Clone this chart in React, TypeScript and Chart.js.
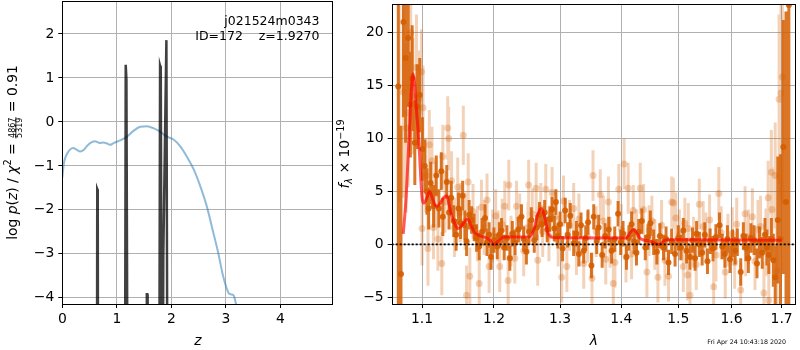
import React, { useEffect, useRef } from "react";
import { Chart, registerables } from "chart.js";
Chart.register(...registerables);

const FONT = '"DejaVu Sans", "Liberation Sans", sans-serif';
const TICK = 13.9;

// ---------- left panel: redshift ----------
const zTicks = [0, 1, 2, 3, 4];
const lnpTicks = [-4, -3, -2, -1, 0, 1, 2];
const chiZ = [0.0, 0.03, 0.08, 0.14, 0.2, 0.26, 0.33, 0.39, 0.45, 0.51, 0.6, 0.69, 0.75, 0.82, 0.88, 0.94, 1.06, 1.18, 1.3, 1.43, 1.55, 1.67, 1.78, 1.91, 2.04, 2.16, 2.28, 2.41, 2.53, 2.65, 2.77, 2.86, 2.95, 3.05, 3.09, 3.14, 3.18, 3.3];
const chiVal = [-1.27, -0.93, -0.74, -0.63, -0.59, -0.63, -0.67, -0.64, -0.55, -0.48, -0.44, -0.48, -0.47, -0.49, -0.52, -0.48, -0.42, -0.34, -0.21, -0.11, -0.1, -0.14, -0.21, -0.33, -0.4, -0.55, -0.78, -1.08, -1.46, -1.92, -2.52, -2.98, -3.51, -3.89, -3.92, -3.94, -4.11, -4.9];
const pzZ = [0.0, 0.632, 0.641, 0.65, 0.66, 1.145, 1.163, 1.176, 1.205, 1.543, 1.55, 1.558, 1.565, 1.772, 1.793, 1.806, 1.832, 1.853, 1.909, 1.935, 4.97];
const pzVal = [-10, -10, -1.53, -1.56, -10, -10, 1.3, 0.97, -10, -10, -3.92, -3.92, -10, -10, 1.28, 1.22, -10, -3.0, 1.86, -10, -10];

// ---------- right panel: spectrum ----------
const waveTicks = [1.1, 1.2, 1.3, 1.4, 1.5, 1.6, 1.7];
const fluxTicks = [-5, 0, 5, 10, 15, 20];

const darkWave = [1.0688, 1.0723, 1.0755, 1.0783, 1.0817, 1.0845, 1.0869, 1.0904, 1.0935, 1.097, 1.1005, 1.1036, 1.1065, 1.1088, 1.1115, 1.1155, 1.1191, 1.1226, 1.1259, 1.128, 1.1334, 1.1365, 1.1395, 1.143, 1.1463, 1.1495, 1.1525, 1.1554, 1.1585, 1.1609, 1.1645, 1.168, 1.1717, 1.175, 1.1788, 1.183, 1.1872, 1.19, 1.193, 1.1958, 1.2, 1.2048, 1.208, 1.211, 1.215, 1.219, 1.2233, 1.227, 1.231, 1.236, 1.2407, 1.244, 1.2481, 1.252, 1.2555, 1.26, 1.264, 1.268, 1.272, 1.276, 1.28, 1.284, 1.2875, 1.291, 1.2935, 1.2965, 1.3, 1.304, 1.3081, 1.312, 1.3162, 1.3216, 1.326, 1.33, 1.3334, 1.3378, 1.341, 1.3448, 1.3503, 1.3541, 1.359, 1.3622, 1.368, 1.373, 1.379, 1.3838, 1.389, 1.3946, 1.399, 1.403, 1.4088, 1.413, 1.4176, 1.422, 1.426, 1.43, 1.4353, 1.4413, 1.446, 1.4501, 1.456, 1.4617, 1.467, 1.4735, 1.478, 1.4824, 1.488, 1.4942, 1.5, 1.505, 1.5092, 1.515, 1.5215, 1.526, 1.5308, 1.5337, 1.539, 1.544, 1.549, 1.554, 1.559, 1.5645, 1.57, 1.5768, 1.582, 1.5871, 1.592, 1.597, 1.602, 1.607, 1.6112, 1.6178, 1.623, 1.628, 1.6329, 1.638, 1.6442, 1.65, 1.655, 1.6606, 1.666, 1.67, 1.6738, 1.679, 1.683, 1.6868, 1.6921, 1.6975, 1.7035, 1.709, 1.7149];
const darkFlux = [14.9, -2.8, 21.0, 17.6, 19.5, 13.2, 15.7, 9.6, 13.0, 14.1, 9.0, 7.4, 5.0, 3.4, 5.8, 3.6, 6.5, 3.4, 6.9, 2.6, 5.9, 3.0, 4.4, 2.2, 0.9, 3.4, 2.0, 4.6, 1.8, 0.3, 2.8, 2.3, 1.6, 0.6, -0.2, 1.2, 2.5, 0.2, 0.9, -1.2, 0.4, -0.2, 0.9, 1.3, -0.3, 0.6, -1.3, 1.0, 0.2, 1.4, 2.6, 0.5, -0.7, 1.2, 2.3, 0.4, 1.6, 2.8, 1.9, 3.0, 1.4, 2.4, 3.3, 1.5, 4.0, 0.8, 1.9, -0.4, 3.2, 0.9, 2.7, 0.1, 1.0, -0.9, 1.8, -0.6, 0.6, 2.1, -2.0, 2.6, 0.3, 1.6, -1.0, 0.8, 1.4, -0.6, 0.5, 2.9, 0.2, 1.0, -1.2, 0.6, 1.9, 0.3, -0.8, 1.2, 2.2, -0.3, 0.7, 2.0, 0.2, -0.7, 0.8, -0.3, 0.5, -1.7, 0.3, -0.9, 0.6, -0.3, 1.3, -0.6, -1.2, 0.4, -1.3, 1.0, 0.0, -0.8, 0.9, -1.6, 0.3, -0.4, 0.7, 1.8, -0.2, -0.9, 0.5, -1.4, 0.1, -0.6, 0.2, -2.6, 0.8, -0.3, -1.3, 0.6, 0.4, -1.8, 0.2, -0.8, 0.9, -0.3, -1.0, 0.5, -1.5, -3.1, 2.3, 0.5, 9.2, 4.0, 22.6];
const darkErr = [25, 14, 9, 8, 6.5, 5, 5, 4, 4, 3.5, 3, 2.5, 2.2, 2.0, 2.0, 2.0, 1.9, 1.8, 1.8, 1.8, 1.6, 1.6, 1.6, 1.5, 1.5, 1.5, 1.5, 1.4, 1.4, 1.4, 1.4, 1.3, 1.3, 1.3, 1.3, 1.3, 1.3, 1.3, 1.2, 1.2, 1.2, 1.2, 1.2, 1.2, 1.2, 1.2, 1.2, 1.2, 1.2, 1.2, 1.2, 1.2, 1.2, 1.2, 1.2, 1.2, 1.2, 1.2, 1.2, 1.2, 1.2, 1.2, 1.2, 1.2, 1.2, 1.2, 1.2, 1.2, 1.2, 1.2, 1.2, 1.2, 1.2, 1.2, 1.2, 1.2, 1.2, 1.2, 1.2, 1.2, 1.2, 1.2, 1.2, 1.2, 1.2, 1.2, 1.2, 1.2, 1.2, 1.2, 1.2, 1.2, 1.2, 1.2, 1.2, 1.2, 1.2, 1.2, 1.2, 1.2, 1.2, 1.2, 1.2, 1.2, 1.2, 1.2, 1.2, 1.2, 1.2, 1.2, 1.2, 1.2, 1.2, 1.2, 1.2, 1.2, 1.2, 1.2, 1.2, 1.2, 1.2, 1.2, 1.2, 1.2, 1.2, 1.3, 1.3, 1.3, 1.3, 1.3, 1.3, 1.3, 1.3, 1.3, 1.4, 1.4, 1.4, 1.4, 1.5, 1.5, 1.6, 1.7, 1.8, 2.0, 2.5, 3.0, 6.0, 8.0, 12, 18, 30];

const lightWave = [1.07, 1.0752, 1.079, 1.0817, 1.085, 1.088, 1.0926, 1.096, 1.0992, 1.1, 1.1013, 1.105, 1.1079, 1.1097, 1.1133, 1.1153, 1.118, 1.1213, 1.1266, 1.128, 1.131, 1.1347, 1.136, 1.14, 1.144, 1.1485, 1.152, 1.1563, 1.159, 1.1609, 1.1632, 1.1655, 1.17, 1.1763, 1.1788, 1.182, 1.1858, 1.19, 1.193, 1.198, 1.2025, 1.206, 1.2085, 1.212, 1.2159, 1.2208, 1.2218, 1.225, 1.2307, 1.2332, 1.238, 1.244, 1.2504, 1.2515, 1.257, 1.2629, 1.2653, 1.27, 1.273, 1.2777, 1.2826, 1.2875, 1.292, 1.297, 1.3026, 1.3054, 1.3107, 1.315, 1.3216, 1.326, 1.33, 1.3378, 1.344, 1.3513, 1.3529, 1.358, 1.3649, 1.37, 1.374, 1.3784, 1.381, 1.3865, 1.3893, 1.3958, 1.4, 1.4048, 1.408, 1.4118, 1.4176, 1.4206, 1.426, 1.4325, 1.4383, 1.4441, 1.448, 1.4529, 1.458, 1.4635, 1.47, 1.476, 1.4824, 1.4882, 1.4912, 1.4956, 1.502, 1.5092, 1.512, 1.5171, 1.5184, 1.5215, 1.528, 1.533, 1.5387, 1.546, 1.551, 1.558, 1.5657, 1.57, 1.5755, 1.58, 1.5878, 1.593, 1.6014, 1.606, 1.61, 1.6178, 1.6264, 1.6276, 1.633, 1.6408, 1.646, 1.652, 1.6572, 1.6639, 1.668, 1.6724, 1.6738, 1.6789, 1.6803, 1.6868, 1.69, 1.6947, 1.6987, 1.7014];
const lightFlux = [24.0, 14.4, 11.0, 12.4, 20.0, 14.0, 16.7, 13.8, 16.3, 1.5, 12.9, 6.5, -0.4, 9.4, 7.9, 1.6, 4.8, 0.5, -1.8, 8.3, 4.0, 11.0, 10.0, 6.0, 1.6, 5.4, 3.0, 10.3, 2.2, -4.8, 5.9, -3.0, 3.1, 1.0, -3.7, 3.5, 1.6, 4.2, -2.1, 0.8, 2.7, 0.8, -2.1, 1.9, 3.6, -3.4, 5.6, 0.3, -1.3, 3.6, 2.4, -0.6, 1.6, 5.6, 2.9, 5.3, -1.5, 3.4, 1.2, 5.2, 0.8, 4.9, 2.6, 0.3, -3.1, 4.1, -2.1, 1.8, 3.4, -0.5, 2.4, -1.8, 0.7, -3.2, 6.5, 1.2, 4.7, 2.2, -1.4, 4.0, 0.2, -3.7, -1.7, 5.2, 1.4, 7.6, -1.2, 5.3, -0.9, 3.2, 0.9, 5.3, 3.3, -2.6, 1.3, 2.2, 0.0, -3.1, 1.8, -1.5, -3.0, 4.0, 3.9, 2.5, 0.9, -2.1, 2.0, -2.9, 1.5, -4.8, 0.2, -1.9, 3.8, 1.7, 0.6, 2.3, -4.0, -1.0, 4.8, 1.1, -2.6, 0.4, 1.0, -1.7, 1.9, -4.3, 2.9, -0.4, 0.7, 2.6, -1.6, 1.4, 1.7, -4.6, 0.2, 4.4, -5.3, 6.8, 3.3, 6.5, -2.5, 13.7, 14.3, 15.8];
const lightErr = [20, 10, 8, 7, 6, 5.5, 5, 4.5, 4, 3.5, 4, 3.5, 3.5, 3.3, 3.2, 3.0, 3.0, 3.0, 3.0, 3.0, 2.9, 3.0, 3.0, 2.8, 2.8, 2.8, 2.8, 2.8, 2.7, 2.8, 2.7, 2.7, 2.6, 2.6, 2.6, 2.6, 2.6, 2.5, 2.5, 2.5, 2.5, 2.4, 2.4, 2.4, 2.4, 2.4, 2.4, 2.4, 2.4, 2.4, 2.4, 2.4, 2.4, 2.4, 2.4, 2.4, 2.4, 2.4, 2.4, 2.4, 2.4, 2.4, 2.4, 2.4, 2.4, 2.4, 2.4, 2.4, 2.4, 2.4, 2.4, 2.4, 2.4, 2.4, 2.4, 2.4, 2.4, 2.4, 2.4, 2.4, 2.4, 2.4, 2.4, 2.4, 2.4, 2.4, 2.4, 2.4, 2.4, 2.4, 2.4, 2.4, 2.4, 2.4, 2.4, 2.4, 2.4, 2.4, 2.4, 2.4, 2.4, 2.4, 2.4, 2.4, 2.4, 2.4, 2.4, 2.4, 2.4, 2.4, 2.4, 2.4, 2.4, 2.4, 2.4, 2.4, 2.5, 2.5, 2.5, 2.5, 2.5, 2.5, 2.5, 2.5, 2.5, 2.6, 2.6, 2.6, 2.6, 2.7, 2.7, 2.8, 2.9, 3.0, 3.2, 3.5, 3.5, 4.0, 4.0, 5.0, 5.0, 8.0, 10.0, 12.0];

const modelWave = [1.0752, 1.079, 1.083, 1.086, 1.088, 1.09, 1.0917, 1.096, 1.0985, 1.1005, 1.1025, 1.106, 1.1102, 1.1135, 1.1169, 1.12, 1.1236, 1.129, 1.1334, 1.1365, 1.1395, 1.144, 1.1485, 1.152, 1.1554, 1.16, 1.1624, 1.167, 1.1717, 1.1788, 1.1883, 1.194, 1.2001, 1.206, 1.2146, 1.2517, 1.26, 1.265, 1.2711, 1.276, 1.2823, 1.2926, 1.4084, 1.415, 1.4211, 1.427, 1.4339, 1.4502, 1.46, 1.4659, 1.478, 1.7];
const modelFlux = [1.0, 4.5, 10.4, 14.8, 16.1, 15.3, 13.5, 9.4, 6.0, 4.2, 3.9, 4.3, 5.0, 4.4, 3.8, 3.6, 3.8, 4.4, 4.6, 3.8, 2.9, 2.0, 1.5, 1.6, 1.9, 2.3, 2.4, 1.8, 1.15, 0.84, 0.63, 0.4, 0.0, 0.3, 0.7, 0.7, 1.5, 2.8, 3.4, 2.6, 0.9, 0.63, 0.6, 1.1, 1.4, 1.0, 0.5, 0.3, 0.05, 0.0, 0.44, 0.4];

const waveRange = [1.0603, 1.7298];
const zeroLevel = 0;

const minus = (v: number | string) => String(v).replace("-", "\u2212");

type Seg = { t: string; it?: boolean; size?: number; dy?: number } | { num: string; den: string; size: number };

function fontOf(s: { it?: boolean; size?: number }) {
  return `${s.it ? "italic " : ""}${s.size ?? TICK}px ${FONT}`;
}

function drawVerticalRich(ctx: CanvasRenderingContext2D, segs: Seg[], x0: number, cy: number, base: number) {
  const widths = segs.map((s) => {
    if ("num" in s) {
      ctx.font = `${s.size}px ${FONT}`;
      return Math.max(ctx.measureText(s.num).width, ctx.measureText(s.den).width) + 2;
    }
    ctx.font = fontOf(s);
    return ctx.measureText(s.t).width;
  });
  const total = widths.reduce((a, b) => a + b, 0);
  ctx.save();
  ctx.translate(x0, cy);
  ctx.rotate(-Math.PI / 2);
  ctx.fillStyle = "#000";
  ctx.textBaseline = "alphabetic";
  let u = -total / 2;
  segs.forEach((s, i) => {
    const w = widths[i];
    if ("num" in s) {
      ctx.font = `${s.size}px ${FONT}`;
      ctx.textAlign = "center";
      ctx.fillText(s.num, u + w / 2, base - 1.8);
      ctx.fillText(s.den, u + w / 2, base + 5.0);
      ctx.fillRect(u + 0.5, base - 1.2, w - 1, 0.8);
    } else {
      ctx.font = fontOf(s);
      ctx.textAlign = "left";
      ctx.fillText(s.t, u, base + (s.dy ?? 0));
    }
    u += w;
  });
  ctx.restore();
}

function frame(ctx: CanvasRenderingContext2D, a: { left: number; top: number; right: number; bottom: number }) {
  const l = Math.round(a.left) + 0.5;
  const t = Math.round(a.top) + 0.5;
  const r = Math.round(a.right) - 0.5;
  const b = Math.round(a.bottom) + 0.5;
  ctx.save();
  ctx.strokeStyle = "#000";
  ctx.lineWidth = 1;
  ctx.strokeRect(l, t, r - l, b - t);
  ctx.restore();
}

const gridOpts = { color: "#b0b0b0", lineWidth: 1, tickColor: "#000", tickLength: 4, drawTicks: true };
const tickFont = { family: FONT, size: TICK };

const leftDeco = {
  id: "leftDeco",
  afterDraw(chart: any) {
    const ctx = chart.ctx as CanvasRenderingContext2D;
    frame(ctx, chart.chartArea);
    ctx.save();
    ctx.fillStyle = "#000";
    ctx.font = `12.5px ${FONT}`;
    ctx.textAlign = "right";
    ctx.textBaseline = "alphabetic";
    ctx.fillText("j021524m0343", 319.5, 25);
    ctx.fillText("ID=172    z=1.9270", 319.5, 39.5);
    ctx.font = `italic ${TICK}px ${FONT}`;
    ctx.textAlign = "center";
    const a = chart.chartArea;
    ctx.fillText("z", (a.left + a.right) / 2, 345);
    ctx.restore();
    drawVerticalRich(
      ctx,
      [
        { t: "log " },
        { t: "p", it: true },
        { t: "(" },
        { t: "z", it: true },
        { t: ") / " },
        { t: "\u03c7", it: true },
        { t: "2", size: 9.7, dy: -5.5 },
        { t: " = " },
        { num: "4867", den: "5319", size: 8 },
        { t: " = 0.91" },
      ],
      0,
      (a.top + a.bottom) / 2,
      16.7
    );
  },
};

const rightDeco = {
  id: "rightDeco",
  afterDraw(chart: any) {
    const ctx = chart.ctx as CanvasRenderingContext2D;
    const a = chart.chartArea;
    frame(ctx, a);
    ctx.save();
    ctx.fillStyle = "#000";
    ctx.font = `italic ${TICK}px ${FONT}`;
    ctx.textAlign = "center";
    ctx.textBaseline = "alphabetic";
    ctx.fillText("\u03bb", (a.left + a.right) / 2, 345);
    ctx.font = `6.3px ${FONT}`;
    ctx.textAlign = "right";
    ctx.fillText("Fri Apr 24 10:43:18 2020", 786 - 330, 343.5);
    ctx.restore();
    drawVerticalRich(
      ctx,
      [
        { t: "f", it: true },
        { t: "\u03bb", it: true, size: 9.7, dy: 3 },
        { t: " \u00d7 10" },
        { t: "\u221219", size: 9.7, dy: -5.5 },
      ],
      0,
      (a.top + a.bottom) / 2,
      19
    );
  },
};

function leftConfig(): any {
  return {
    type: "line",
    data: {
      datasets: [
        {
          data: pzZ.map((z, i) => ({ x: z, y: pzVal[i] })),
          borderColor: "rgba(0,0,0,0.75)",
          borderWidth: 2.5,
          pointRadius: 0,
          tension: 0,
          clip: 0,
          order: 1,
        },
        {
          data: chiZ.map((z, i) => ({ x: z, y: chiVal[i] })),
          borderColor: "rgba(31,119,180,0.5)",
          borderWidth: 2,
          pointRadius: 0,
          cubicInterpolationMode: "monotone",
          clip: 0,
          order: 2,
        },
      ],
    },
    options: {
      animation: false,
      responsive: false,
      devicePixelRatio: 1,
      events: [],
      layout: { padding: { left: 0, top: 1, right: 6.7, bottom: 0 } },
      plugins: { legend: { display: false }, tooltip: { enabled: false } },
      scales: {
        x: {
          type: "linear",
          min: 0,
          max: 4.97,
          bounds: "data",
          afterBuildTicks: (s: any) => {
            s.ticks = zTicks.map((v) => ({ value: v }));
          },
          afterFit: (s: any) => {
            s.height = 46;
            s.paddingLeft = 0;
            s.paddingRight = 0;
          },
          grid: gridOpts,
          border: { display: false },
          ticks: { color: "#000", font: tickFont, padding: 3, maxRotation: 0, autoSkip: false, callback: (v: number) => minus(v) },
        },
        y: {
          type: "linear",
          min: -4.14,
          max: 2.75,
          bounds: "data",
          afterBuildTicks: (s: any) => {
            s.ticks = lnpTicks.map((v) => ({ value: v }));
          },
          afterFit: (s: any) => {
            s.width = 62.3;
            s.paddingTop = 0;
            s.paddingBottom = 0;
          },
          grid: gridOpts,
          border: { display: false },
          ticks: { color: "#000", font: tickFont, padding: 4, autoSkip: false, callback: (v: number) => minus(v) },
        },
      },
    },
    plugins: [leftDeco],
  };
}

const orange = (a: number) => `rgba(213,94,0,${a})`;

function errSegments(w: number[], f: number[], e: number[]) {
  return w.flatMap((x, i) => [
    { x, y: f[i] - e[i] },
    { x, y: f[i] + e[i] },
    { x, y: null },
  ]);
}

function rightConfig(): any {
  return {
    type: "line",
    data: {
      datasets: [
        {
          data: errSegments(lightWave, lightFlux, lightErr),
          borderColor: orange(0.28),
          borderWidth: 3,
          pointRadius: 0,
          spanGaps: false,
          clip: 0,
          order: 6,
        },
        {
          data: lightWave.map((x, i) => ({ x, y: lightFlux[i] })),
          showLine: false,
          pointRadius: 3.5,
          pointBorderWidth: 0,
          pointBackgroundColor: orange(0.28),
          clip: 0,
          order: 5,
        },
        {
          data: errSegments(darkWave, darkFlux, darkErr),
          borderColor: orange(0.85),
          borderWidth: 3,
          pointRadius: 0,
          spanGaps: false,
          clip: 0,
          order: 4,
        },
        {
          data: darkWave.map((x, i) => ({ x, y: darkFlux[i] })),
          showLine: false,
          pointRadius: 3,
          pointBorderWidth: 0,
          pointBackgroundColor: orange(0.9),
          clip: 0,
          order: 3,
        },
        {
          data: modelWave.map((x, i) => ({ x, y: modelFlux[i] })),
          borderColor: "rgba(255,0,0,0.65)",
          borderWidth: 3,
          pointRadius: 0,
          cubicInterpolationMode: "monotone",
          clip: 0,
          order: 2,
        },
        {
          data: waveRange.map((x) => ({ x, y: zeroLevel })),
          borderColor: "#000",
          borderWidth: 1.8,
          borderDash: [2, 2],
          pointRadius: 0,
          clip: 0,
          order: 1,
        },
      ],
    },
    options: {
      animation: false,
      responsive: false,
      devicePixelRatio: 1,
      events: [],
      layout: { padding: { left: 0, top: 1, right: 1, bottom: 0 } },
      plugins: { legend: { display: false }, tooltip: { enabled: false } },
      scales: {
        x: {
          type: "logarithmic",
          min: waveRange[0],
          max: waveRange[1],
          bounds: "data",
          afterBuildTicks: (s: any) => {
            s.ticks = waveTicks.map((v) => ({ value: v }));
          },
          afterFit: (s: any) => {
            s.height = 46;
            s.paddingLeft = 0;
            s.paddingRight = 0;
          },
          grid: gridOpts,
          border: { display: false },
          ticks: { color: "#000", font: tickFont, padding: 3, maxRotation: 0, autoSkip: false, callback: (v: number) => Number(v).toFixed(1) },
        },
        y: {
          type: "linear",
          min: -5.63,
          max: 22.7,
          bounds: "data",
          afterBuildTicks: (s: any) => {
            s.ticks = fluxTicks.map((v) => ({ value: v }));
          },
          afterFit: (s: any) => {
            s.width = 61.7;
            s.paddingTop = 0;
            s.paddingBottom = 0;
          },
          grid: gridOpts,
          border: { display: false },
          ticks: { color: "#000", font: tickFont, padding: 4, autoSkip: false, callback: (v: number) => minus(v) },
        },
      },
    },
    plugins: [rightDeco],
  };
}

export default function App() {
  const leftRef = useRef<HTMLCanvasElement>(null);
  const rightRef = useRef<HTMLCanvasElement>(null);
  useEffect(() => {
    const l = new Chart(leftRef.current!, leftConfig());
    const r = new Chart(rightRef.current!, rightConfig());
    return () => {
      l.destroy();
      r.destroy();
    };
  }, []);
  return (
    <div style={{ position: "absolute", left: 0, top: 0, width: 800, height: 350, background: "#fff", overflow: "hidden" }}>
      <canvas ref={leftRef} width={340} height={350} style={{ position: "absolute", left: 0, top: 0, width: 340, height: 350 }} />
      <canvas ref={rightRef} width={470} height={350} style={{ position: "absolute", left: 330, top: 0, width: 470, height: 350 }} />
    </div>
  );
}
